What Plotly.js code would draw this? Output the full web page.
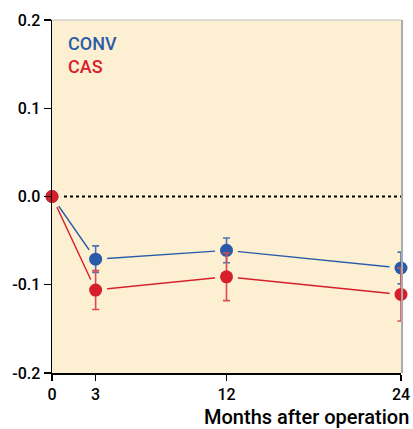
<!DOCTYPE html>
<html>
<head>
<meta charset="utf-8">
<script src="https://cdn.plot.ly/plotly-3.0.1.min.js"></script>
<style>html,body{margin:0;padding:0;background:#fff;}#chart{width:413px;height:429px;}</style>
</head>
<body>
<div id="chart"></div>
<script>
var months = [0, 3, 12, 24];
var tickLabels = ["0", "3", "12", "24"];
var convMean = [0, -0.071, -0.061, -0.081];
var convErr = [0, 0.015, 0.014, 0.018];
var casMean = [0, -0.106, -0.091, -0.111];
var casErr = [0, 0.022, 0.027, 0.030];
var yTicks = [0.2, 0.1, 0.0, -0.1, -0.2];
var yTickLabels = ["0.2", "0.1", "0.0", "-0.1", "-0.2"];
var refLine = 0;

var blue = "#2a5ba8";
var red = "#d61f2a";
var bg = "#fdf0d2";
var font = "Roboto, Liberation Sans, Arial, sans-serif";

var traces = [
  {x: months, y: convMean, mode: "lines", line: {color: blue, width: 1.4}, hoverinfo: "skip"},
  {x: months, y: casMean, mode: "lines", line: {color: red, width: 1.4}, hoverinfo: "skip"},
  {x: months, y: convMean, mode: "markers", marker: {color: bg, size: 23}, hoverinfo: "skip"},
  {x: months, y: casMean, mode: "markers", marker: {color: bg, size: 23}, hoverinfo: "skip"},
  {x: months, y: convMean, mode: "markers", cliponaxis: false, marker: {color: blue, size: 13},
   error_y: {type: "data", array: convErr, visible: true, color: "#4a72b5", thickness: 1.6, width: 3.5}},
  {x: months, y: casMean, mode: "markers", cliponaxis: false, marker: {color: red, size: 13},
   error_y: {type: "data", array: casErr, visible: true, color: "#dd4b50", thickness: 1.6, width: 3.5}}
];

var layout = {
  width: 413, height: 429,
  margin: {l: 52, r: 12, t: 20, b: 56},
  paper_bgcolor: "#ffffff",
  plot_bgcolor: bg,
  showlegend: false,
  font: {family: font, color: "#000", weight: 500},
  xaxis: {
    range: [0, 24], tickvals: months, ticktext: tickLabels,
    showgrid: false, zeroline: false, showline: true, linecolor: "#000", linewidth: 1.5,
    ticks: "outside", ticklen: 6, tickwidth: 1.2, tickcolor: "#000",
    tickfont: {family: font, size: 16, color: "#000", weight: 500}
  },
  yaxis: {
    range: [-0.2, 0.2], tickvals: yTicks, ticktext: yTickLabels,
    showgrid: false, zeroline: false, showline: true, linecolor: "#000", linewidth: 1.5,
    ticks: "outside", ticklen: 7, tickwidth: 1.2, tickcolor: "#000",
    tickfont: {family: font, size: 16, color: "#000", weight: 500}
  },
  shapes: [
    {type: "line", xref: "paper", yref: "y", x0: 0, x1: 1, y0: refLine, y1: refLine,
     line: {color: "#000", width: 2, dash: "dot"}, layer: "below"},
    {type: "line", xref: "paper", yref: "paper", x0: 1.003, x1: 1.003, y0: 0, y1: 1,
     line: {color: "#aaaaaa", width: 2}},
    {type: "line", xref: "paper", yref: "paper", x0: 0, x1: 1, y0: 1, y1: 1,
     line: {color: "#bbbbbb", width: 1}}
  ],
  annotations: [
    {text: "CONV", xref: "paper", yref: "paper", x: 0.04, y: 0.933, xanchor: "left", yanchor: "middle",
     showarrow: false, font: {family: font, size: 18, color: blue, weight: 500}},
    {text: "CAS", xref: "paper", yref: "paper", x: 0.04, y: 0.869, xanchor: "left", yanchor: "middle",
     showarrow: false, font: {family: font, size: 18, color: red, weight: 500}},
    {text: "Months after operation", xref: "paper", yref: "paper", x: 1.03, y: -0.125, xanchor: "right", yanchor: "middle",
     showarrow: false, font: {family: font, size: 20, color: "#000", weight: 500}}
  ]
};

Plotly.newPlot("chart", traces, layout, {displayModeBar: false, staticPlot: true});
</script>
</body>
</html>
